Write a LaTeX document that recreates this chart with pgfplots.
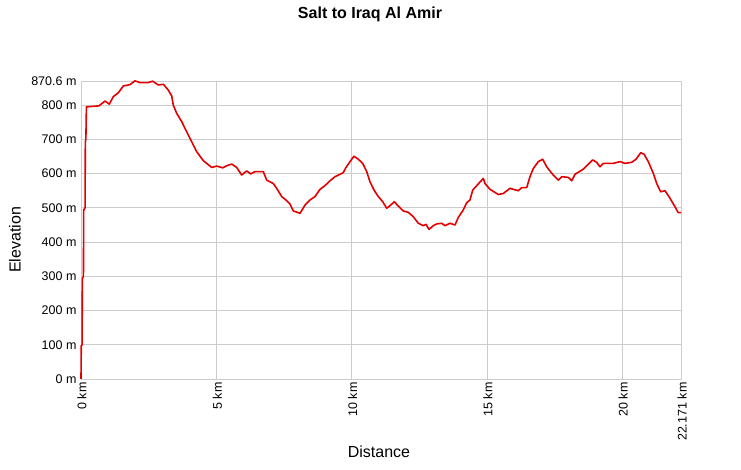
\documentclass[border=0pt]{standalone}
\usepackage{fontspec}
\setmainfont{Liberation Sans}
\usepackage{pgfplots}
\pgfplotsset{compat=1.18}
\definecolor{gridgray}{RGB}{204,204,204}
\definecolor{linered}{RGB}{228,0,0}
\begin{document}
\begin{tikzpicture}
\begin{axis}[
  name=ax, at={(0,0)}, anchor=south west,
  scale only axis, width=600pt, height=298pt,
  xmin=0, xmax=22.171, ymin=0, ymax=870.6,
  axis line style={gridgray},
  grid=major, major grid style={gridgray, line width=0.8pt},
  major tick length=0pt,
  xtick={0,5,10,15,20,22.171},
  xticklabels={0 km,5 km,10 km,15 km,20 km,22.171 km},
  ytick={0,100,200,300,400,500,600,700,800,870.6},
  yticklabels={0 m,100 m,200 m,300 m,400 m,500 m,600 m,700 m,800 m,870.6 m},
  xticklabel style={rotate=90, anchor=east, font=\fontsize{12.5}{14}\selectfont, xshift=0pt, yshift=-1pt},
  yticklabel style={font=\fontsize{12.5}{14}\selectfont, xshift=-1pt},
  /pgf/number format/assume math mode=true,
  clip=false,
]
\addplot[linered, line width=1.6pt, line join=round] coordinates {
(0,0) (0.01,97) (0.04,100) (0.05,294) (0.09,300) (0.10,494) (0.15,500) (0.16,693) (0.18,700) (0.20,795)
(0.665,798) (0.887,812) (1.046,803) (1.194,825) (1.378,836) (1.563,856) (1.811,860) (1.995,871)
(2.180,866) (2.487,866) (2.649,870) (2.856,859) (3.041,861) (3.226,844) (3.351,827) (3.411,800)
(3.536,776) (3.721,752) (3.906,722) (4.091,693) (4.275,664) (4.519,638) (4.830,618) (5.014,622)
(5.236,617) (5.384,623) (5.569,628) (5.753,618) (5.938,596) (6.123,608) (6.271,599) (6.429,606)
(6.736,606) (6.862,581) (7.106,571) (7.231,557) (7.416,533) (7.601,521) (7.723,511) (7.845,491)
(8.092,484) (8.277,508) (8.462,523) (8.646,533) (8.831,554) (9.016,565) (9.201,579) (9.385,591)
(9.570,598) (9.692,603) (9.792,618) (9.940,635) (10.088,651) (10.247,642) (10.409,630) (10.557,606)
(10.679,576) (10.827,552) (10.986,533) (11.148,518) (11.296,499) (11.444,508) (11.577,518) (11.725,505)
(11.909,491) (12.094,487) (12.279,474) (12.464,455) (12.649,448) (12.748,452) (12.859,437) (13.018,448)
(13.143,453) (13.328,455) (13.450,448) (13.635,455) (13.820,450) (13.942,472) (14.126,494) (14.252,515)
(14.374,523) (14.474,552) (14.681,570) (14.866,586) (14.929,571) (15.113,554) (15.298,545) (15.420,539)
(15.605,542) (15.852,557) (16.159,550) (16.284,559) (16.469,559) (16.591,591) (16.713,615) (16.898,635)
(17.060,642) (17.208,620) (17.393,601) (17.637,581) (17.762,591) (18.006,589) (18.132,579) (18.254,598)
(18.561,613) (18.908,640) (19.055,633) (19.178,620) (19.300,630) (19.669,630) (19.917,635) (20.101,630)
(20.349,633) (20.508,642) (20.681,661) (20.803,657) (20.962,635) (21.147,601) (21.273,571) (21.420,547)
(21.579,550) (21.764,528) (21.912,508) (22.071,486) (22.171,486)
};
\end{axis}
\node[font=\bfseries\fontsize{16}{18}\selectfont] at (289pt,365pt) {Salt to Iraq Al Amir};
\node[rotate=90, font=\fontsize{16}{18}\selectfont] at (-66pt,139pt) {Elevation};
\node[font=\fontsize{16}{18}\selectfont] at (298pt,-73pt) {Distance};
\pgfresetboundingbox
\path[use as bounding box] (-81pt,-91pt) rectangle (660pt,379pt);
\end{tikzpicture}
\end{document}
